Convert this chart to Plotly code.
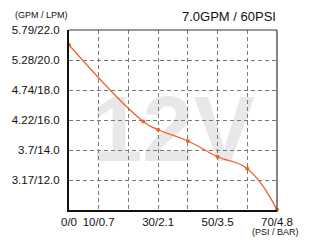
import plotly.graph_objects as go

# data
pressure_psi = [0, 25, 30, 40, 50, 60, 70]
flow_lpm = [21.0, 15.9, 15.35, 14.6, 13.55, 12.75, 10.0]

x_tickvals = [0, 10, 20, 30, 40, 50, 60, 70]
x_ticktext = ["0/0", "10/0.7", "", "30/2.1", "", "50/3.5", "", "70/4.8"]
y_tickvals = [10, 12, 14, 16, 18, 20, 22]
y_ticktext = ["", "3.17/12.0", "3.7/14.0", "4.22/16.0", "4.74/18.0", "5.28/20.0", "5.79/22.0"]

title_text = "7.0GPM / 60PSI"
y_unit = "(GPM / LPM)"
x_unit = "(PSI / BAR)"
watermark = "12V"

FONT = "Liberation Sans, Arial, sans-serif"
LINE = "#f0602c"

fig = go.Figure()
fig.add_trace(go.Scatter(
    x=pressure_psi, y=flow_lpm, mode="lines+markers",
    line=dict(color=LINE, width=1.3, shape="spline", smoothing=1.3),
    marker=dict(color=LINE, size=4),
    cliponaxis=False, showlegend=False, hoverinfo="skip",
))

fig.update_layout(
    width=309, height=248,
    margin=dict(l=63, r=32, t=30, b=38),
    paper_bgcolor="white", plot_bgcolor="white",
    font=dict(family=FONT, size=11, color="#111"),
    xaxis=dict(
        range=[0, 70], tickvals=x_tickvals, ticktext=x_ticktext,
        showgrid=True, gridcolor="#7a7a7a", gridwidth=1, griddash="4px,3px",
        showline=True, linecolor="#111", linewidth=2,
        ticks="", ticklabelstandoff=0, zeroline=False,
        tickfont=dict(size=11.5, family=FONT, color="#111"),
    ),
    yaxis=dict(
        range=[10, 22], tickvals=y_tickvals, ticktext=y_ticktext,
        showgrid=True, gridcolor="#7a7a7a", gridwidth=1, griddash="4px,3px",
        showline=True, linecolor="#111", linewidth=2,
        ticks="", ticklabelstandoff=5, zeroline=False,
        tickfont=dict(size=11.5, family=FONT, color="#111"),
    ),
    shapes=[
        dict(type="rect", xref="paper", yref="paper", x0=0, x1=1, y0=0, y1=1,
             line=dict(width=0), fillcolor="rgba(0,0,0,0)", layer="below",
             label=dict(text=watermark, textposition="middle center",
                        font=dict(size=92, color="#e8e8e8", family=FONT, weight="bold"))),
        dict(type="line", xref="paper", yref="paper", x0=0, x1=1, y0=1, y1=1,
             line=dict(color="#333", width=1)),
        dict(type="line", xref="paper", yref="paper", x0=1, x1=1, y0=0, y1=1,
             line=dict(color="#333", width=1.2)),
    ],
    annotations=[
        dict(text=title_text, xref="paper", yref="paper", x=1.005, y=1.0, yshift=14,
             xanchor="right", yanchor="middle", showarrow=False,
             font=dict(size=13, family=FONT, color="#111")),
        dict(text=y_unit, xref="paper", yref="paper", x=0, xshift=-56, y=1.0, yshift=15,
             xanchor="left", yanchor="middle", showarrow=False,
             font=dict(size=9, family=FONT, color="#111")),
        dict(text=x_unit, xref="paper", yref="paper", x=1, xshift=24, y=0, yshift=-22,
             xanchor="right", yanchor="middle", showarrow=False,
             font=dict(size=9, family=FONT, color="#111")),
    ],
)

fig.write_html("out.html")
